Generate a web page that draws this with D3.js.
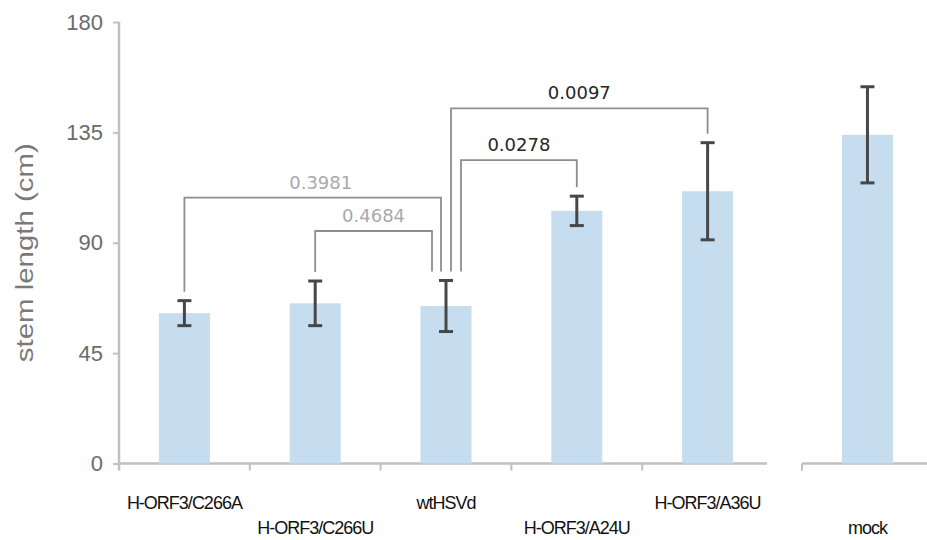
<!DOCTYPE html>
<html>
<head>
<meta charset="utf-8">
<script src="https://cdn.jsdelivr.net/npm/d3@7"></script>
<style>
  body { margin: 0; background: #fff; }
  svg { display: block; }
</style>
</head>
<body>
<svg id="chart"></svg>
<script>
// Data
const categories = ["H-ORF3/C266A", "H-ORF3/C266U", "wtHSVd", "H-ORF3/A24U", "H-ORF3/A36U"];
const controlCategory = ["mock"];
const means = [61.3, 65.3, 64.2, 103, 111, 134];
const errors = [5.1, 9.1, 10.4, 6, 19.8, 19.6];
const yTicks = [0, 45, 90, 135, 180];

// p-value comparisons: from, to, label, height (cm), significant?
const comparisons = [
    { from: "H-ORF3/C266A", to: "wtHSVd", p: "0.3981", level: 108.4, sig: false },
    { from: "H-ORF3/C266U", to: "wtHSVd", p: "0.4684", level: 94.8, sig: false },
    { from: "wtHSVd", to: "H-ORF3/A24U", p: "0.0278", level: 123.7, sig: true },
    { from: "wtHSVd", to: "H-ORF3/A36U", p: "0.0097", level: 144.8, sig: true }
];
// where the bracket legs sit on the shared wtHSVd bar (px offset from bar centre)
const legOffsets = [[0, -5], [0, -14], [15, 0], [5, 0]];

const width = 927, height = 540;
const svg = d3.select("#chart").attr("width", width).attr("height", height);

const allCats = categories.concat(controlCategory);
const rows = allCats.map((c, i) => ({ cat: c, mean: means[i], err: errors[i] }));

const y = d3.scaleLinear().domain([0, 180]).range([463.5, 22]);

// main panel and broken-off control panel
const xMain = d3.scaleBand().domain(categories).range([119, 773]).paddingInner(0.61).paddingOuter(0.305);
const xCtrl = d3.scaleBand().domain(controlCategory).range([802, 933]).paddingInner(0.61).paddingOuter(0.305);
const xPos = c => categories.includes(c) ? xMain(c) : xCtrl(c);
const xMid = c => xPos(c) + xMain.bandwidth() / 2;

const axisColor = "#c0c0c0";

// y axis
const yAxis = svg.append("g")
    .attr("transform", `translate(${xMain.range()[0]},0)`)
    .call(d3.axisLeft(y).tickValues(yTicks).tickSize(6).tickSizeOuter(0).tickPadding(10));
yAxis.select(".domain").attr("stroke", axisColor).attr("stroke-width", 2.5)
    .attr("d", `M0,${y(180)}V${y(0) + 7}`);
yAxis.selectAll(".tick line").attr("stroke", axisColor).attr("stroke-width", 2);
yAxis.selectAll(".tick text")
    .attr("fill", "#6b6b6b")
    .attr("font-family", "Liberation Sans, Arial, sans-serif")
    .attr("font-size", "22px");

// y title
svg.append("text")
    .attr("transform", `translate(33,${(y(180) + y(0)) / 2 + 10}) rotate(-90)`)
    .attr("text-anchor", "middle")
    .attr("fill", "#7a7a7a")
    .attr("font-family", "Liberation Sans, Arial, sans-serif")
    .attr("font-size", "23px")
    .attr("textLength", 219)
    .attr("lengthAdjust", "spacingAndGlyphs")
    .text("stem length (cm)");

// x baselines (broken between main and control)
const base = svg.append("g").attr("stroke", axisColor).attr("stroke-width", 2.5);
base.append("line")
    .attr("x1", xMain.range()[0]).attr("x2", xMain.range()[1] - 6)
    .attr("y1", y(0)).attr("y2", y(0));
base.append("line")
    .attr("x1", xCtrl.range()[0]).attr("x2", width)
    .attr("y1", y(0)).attr("y2", y(0));
const boundaries = d3.range(1, categories.length).map(i => xMain.range()[0] + i * xMain.step());
boundaries.push(xCtrl.range()[0]);
base.selectAll(".xt").data(boundaries).join("line")
    .attr("class", "xt")
    .attr("stroke-width", 2)
    .attr("x1", d => d).attr("x2", d => d)
    .attr("y1", y(0)).attr("y2", y(0) + 7);

// bars
svg.append("g").selectAll("rect").data(rows).join("rect")
    .attr("x", d => xPos(d.cat))
    .attr("width", xMain.bandwidth())
    .attr("y", d => y(d.mean))
    .attr("height", d => y(0) - y(d.mean))
    .attr("fill", "#c6ddf0");

// error bars
const eb = svg.append("g").attr("stroke", "#474747").attr("stroke-width", 3);
rows.forEach(d => {
    const cx = xMid(d.cat);
    eb.append("line").attr("x1", cx).attr("x2", cx)
        .attr("y1", y(d.mean + d.err)).attr("y2", y(d.mean - d.err));
    [d.mean + d.err, d.mean - d.err].forEach(v => {
        eb.append("line").attr("x1", cx - 7).attr("x2", cx + 7)
            .attr("y1", y(v)).attr("y2", y(v));
    });
});

// comparison brackets
const topOf = c => { const r = rows.find(d => d.cat === c); return r.mean + r.err; };
const br = svg.append("g");
comparisons.forEach((c, i) => {
    const x1 = xMid(c.from) + legOffsets[i][0];
    const x2 = xMid(c.to) + legOffsets[i][1];
    const yl = y(c.level);
    const y1 = y(topOf(c.from)) - 9;
    const y2 = y(topOf(c.to)) - 9;
    br.append("path")
        .attr("d", `M${x1},${y1}V${yl}H${x2}V${y2}`)
        .attr("fill", "none")
        .attr("stroke", "#8e8e8e")
        .attr("stroke-width", 1.8);
    br.append("text")
        .attr("x", (x1 + x2) / 2 + (i === 0 ? 8 : 0))
        .attr("y", yl - 9)
        .attr("text-anchor", "middle")
        .attr("fill", c.sig ? "#262626" : "#a9a9a9")
        .attr("font-family", "DejaVu Sans, sans-serif")
        .attr("font-size", "18px")
        .text(c.p);
});

// category labels, staggered on two rows
svg.append("g").selectAll("text").data(allCats).join("text")
    .attr("x", d => xMid(d))
    .attr("y", (d, i) => i % 2 === 0 ? 509 : 534)
    .attr("text-anchor", "middle")
    .attr("fill", "#111")
    .attr("font-family", "Liberation Sans, Arial, sans-serif")
    .attr("font-size", "18px")
    .attr("letter-spacing", "-1px")
    .text(d => d);
</script>
</body>
</html>
